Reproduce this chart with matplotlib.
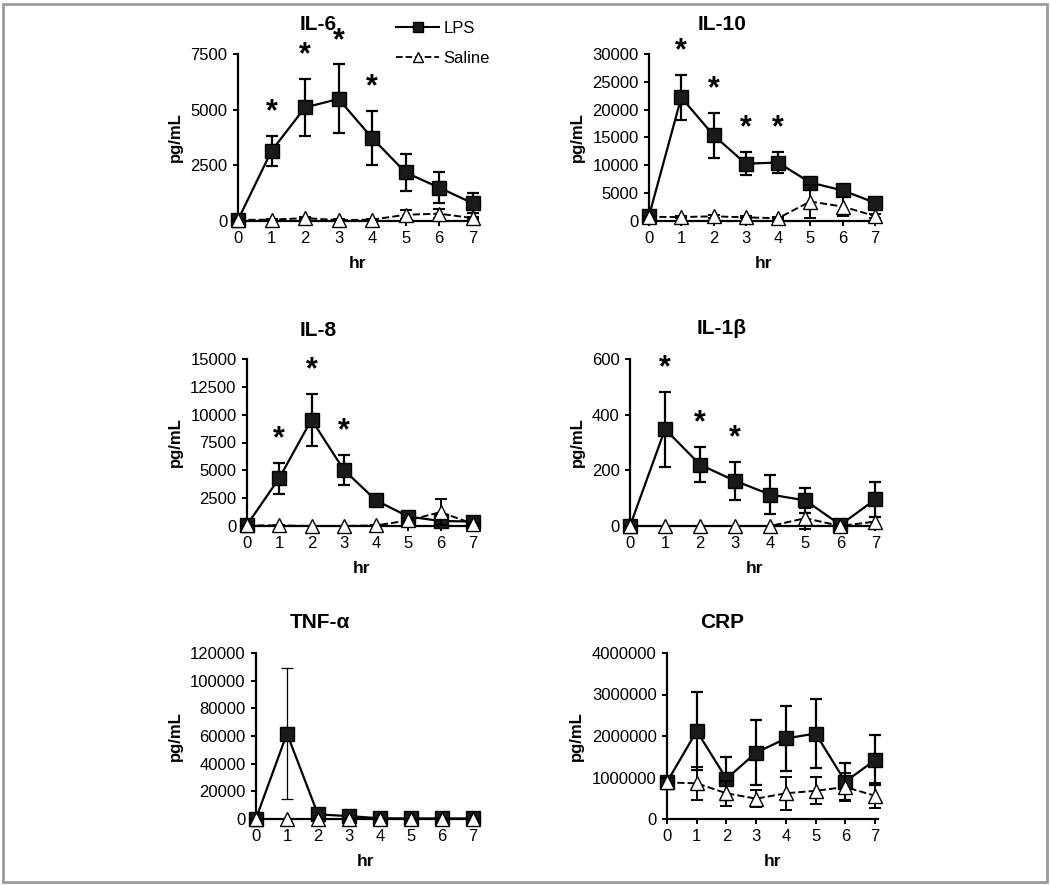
import matplotlib
matplotlib.use('Agg')
import matplotlib.pyplot as plt
import matplotlib.patches as patches
from matplotlib.lines import Line2D

plt.rcParams['font.family'] = ['Liberation Sans', 'DejaVu Sans']

hours = [0, 1, 2, 3, 4, 5, 6, 7]

# IL-6
il6_lps = [50, 3150, 5100, 5480, 3730, 2180, 1500, 800]
il6_lps_err = [30, 670, 1270, 1550, 1200, 830, 680, 450]
il6_sal = [50, 60, 130, 40, 60, 280, 330, 130]
il6_sal_err = [30, 30, 60, 30, 40, 200, 200, 60]
il6_stars = [1, 2, 3, 4]

# IL-10
il10_lps = [900, 22200, 15400, 10300, 10500, 6900, 5500, 3300]
il10_lps_err = [300, 4100, 4000, 2100, 1900, 600, 700, 400]
il10_sal = [750, 700, 850, 650, 500, 3500, 2600, 900]
il10_sal_err = [200, 200, 250, 200, 150, 3000, 1700, 400]
il10_stars = [1, 2, 3, 4]

# IL-8
il8_lps = [100, 4300, 9550, 5050, 2300, 850, 450, 400]
il8_lps_err = [50, 1400, 2350, 1370, 300, 200, 150, 100]
il8_sal = [50, 50, 0, 0, 50, 500, 1250, 200]
il8_sal_err = [30, 30, 0, 0, 30, 200, 1200, 100]
il8_stars = [1, 2, 3]

# IL-1beta
il1b_lps = [0, 348, 220, 162, 113, 92, 4, 96]
il1b_lps_err = [0, 135, 63, 69, 70, 45, 3, 62]
il1b_sal = [0, 0, 0, 0, 0, 28, 0, 16]
il1b_sal_err = [0, 0, 0, 0, 0, 38, 0, 16]
il1b_stars = [1, 2, 3]

# TNF-alpha
tnf_lps = [300, 61800, 3300, 2100, 500, 400, 400, 400]
tnf_lps_err = [0, 47000, 0, 0, 0, 0, 0, 0]
tnf_sal = [0, 0, 0, 0, 0, 0, 0, 0]
tnf_sal_err = [0, 0, 0, 0, 0, 0, 0, 0]
tnf_stars = []

# CRP
crp_lps = [890000, 2120000, 970000, 1600000, 1940000, 2060000, 900000, 1420000]
crp_lps_err = [100000, 950000, 520000, 780000, 790000, 820000, 440000, 600000]
crp_sal = [880000, 860000, 620000, 490000, 620000, 680000, 770000, 560000]
crp_sal_err = [100000, 400000, 300000, 210000, 400000, 330000, 330000, 300000]
crp_stars = []

W, H = 1050, 885
fig = plt.figure(figsize=(W / 100, H / 100), dpi=100)

# gray frame around the whole figure
fig.patches.append(patches.Rectangle((3 / W, 1 - 882 / H), 1044 / W, 878 / H,
                                     transform=fig.transFigure, fill=False,
                                     edgecolor='#9a9a9a', lw=2))

# (title, lps, lps_err, sal, sal_err, stars, ymax, ystep,
#  left px, right px, top px, bottom px, title x, title y, ylabel x, err lw)
panels = [
    ('IL-6', il6_lps, il6_lps_err, il6_sal, il6_sal_err, il6_stars, 7500, 2500,
     238, 476, 54, 221, 318, 25, 175, 1.6),
    ('IL-10', il10_lps, il10_lps_err, il10_sal, il10_sal_err, il10_stars, 30000, 5000,
     649, 878, 54, 221, 722, 25, 577, 1.6),
    ('IL-8', il8_lps, il8_lps_err, il8_sal, il8_sal_err, il8_stars, 15000, 2500,
     247, 476, 359, 526, 318, 330, 175, 1.6),
    ('IL-1β', il1b_lps, il1b_lps_err, il1b_sal, il1b_sal_err, il1b_stars, 600, 200,
     630, 879, 359, 526, 722, 329, 577, 1.6),
    ('TNF-α', tnf_lps, tnf_lps_err, tnf_sal, tnf_sal_err, tnf_stars, 120000, 20000,
     256, 476, 653, 819, 320, 623, 175, 0.9),
    ('CRP', crp_lps, crp_lps_err, crp_sal, crp_sal_err, crp_stars, 4000000, 1000000,
     667, 878, 653, 819, 722, 622, 576, 1.6),
]

for (title, lps, lps_err, sal, sal_err, stars, ymax, ystep,
     lpx, rpx, tpx, bpx, tx, ty, ylx, elw) in panels:
    ax = fig.add_axes([lpx / W, 1 - bpx / H, (rpx - lpx) / W, (bpx - tpx) / H])
    ax.set_xlim(0, 7.1)
    ax.set_ylim(0, ymax)
    ax.set_xticks(hours)
    ax.set_yticks(list(range(0, ymax + 1, ystep)))
    ax.ticklabel_format(axis='y', style='plain', useOffset=False)
    ax.spines['top'].set_visible(False)
    ax.spines['right'].set_visible(False)
    for s in ('left', 'bottom'):
        ax.spines[s].set_linewidth(1.6)
    ax.tick_params(direction='out', length=3.5, width=1.4, labelsize=12, pad=4)
    ax.patch.set_alpha(0)

    # LPS
    ax.errorbar(hours, lps, yerr=lps_err, color='black', lw=1.6, elinewidth=elw,
                capsize=4, capthick=elw, marker='s', markersize=10,
                markerfacecolor='#1a1a1a', markeredgecolor='black', zorder=4,
                clip_on=False)
    # Saline
    ax.errorbar(hours, sal, yerr=sal_err, color='black', lw=1.4, ls='--',
                elinewidth=1.4, capsize=4, capthick=1.4, marker='^', markersize=10,
                markerfacecolor='white', markeredgecolor='black', zorder=5,
                clip_on=False)

    for h in stars:
        ax.annotate('*', xy=(h, lps[h] + lps_err[h]), xytext=(0, 17),
                    textcoords='offset points', ha='center', va='center',
                    fontsize=22, fontweight='bold')

    fig.text(tx / W, 1 - ty / H, title, ha='center', va='center',
             fontsize=15, fontweight='bold')
    fig.text(ylx / W, 1 - (tpx + bpx) / 2 / H, 'pg/mL', ha='center', va='center',
             rotation=90, fontsize=12, fontweight='bold')
    ax.set_xlabel('hr', fontsize=12.5, fontweight='bold', labelpad=7)

# legend in the top-left panel area
handles = [
    Line2D([0], [0], color='black', lw=1.5, marker='s', markersize=7,
           markerfacecolor='#1a1a1a'),
    Line2D([0], [0], color='black', lw=1.3, ls='--', marker='^', markersize=7,
           markerfacecolor='white', markeredgecolor='black'),
]
fig.legend(handles, ['LPS', 'Saline'], loc='upper left',
           bbox_to_anchor=(396 / W, 1 - 21 / H), frameon=False, fontsize=12,
           handlelength=2.6, handletextpad=0.25, labelspacing=0.9,
           borderpad=0, borderaxespad=0)

fig.savefig('out.png', dpi=100)
